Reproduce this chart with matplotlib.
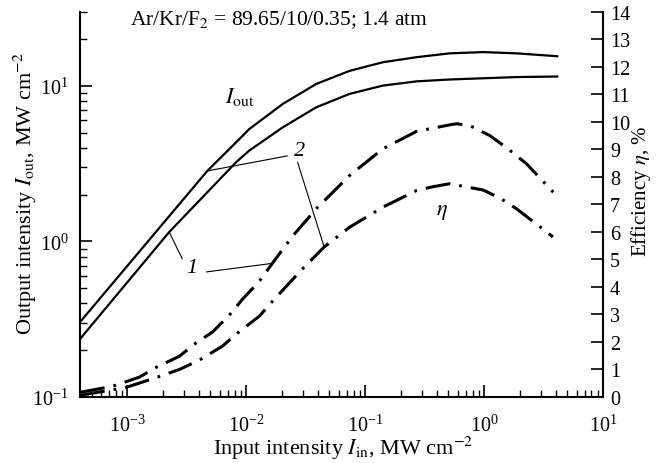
"""
Output intensity and efficiency vs input intensity (Ar/Kr/F2 amplifier).
"""
import numpy as np
import matplotlib

matplotlib.use("Agg")
from matplotlib import pyplot as plt
from matplotlib.ticker import LogLocator, NullFormatter, MultipleLocator

# --- data ------------------------------------------------------------------
# output intensity, curve 2 (upper solid)
iin_out2 = [4.0e-4, 4.70e-3, 8.77e-3, 1.06e-2, 2.03e-2, 3.88e-2, 7.40e-2, 0.141,
            0.270, 0.515, 0.982, 1.875, 4.21]
iout_2 = [0.303, 2.84, 4.56, 5.28, 7.66, 10.3, 12.5, 14.2, 15.3, 16.2, 16.5, 16.2, 15.5]

# output intensity, curve 1 (lower solid)
iin_out1 = [4.0e-4, 2.25e-3, 8.24e-3, 1.06e-2, 2.03e-2, 3.88e-2, 7.40e-2, 0.141,
            0.270, 0.515, 0.982, 1.875, 4.21]
iout_1 = [0.236, 1.15, 3.24, 3.84, 5.42, 7.29, 8.89, 10.05, 10.7, 11.0, 11.2, 11.4, 11.5]

# efficiency, curve 1 (upper dash-dot)
iin_eff1 = [4.0e-4, 7.48e-4, 1.26e-3, 1.75e-3, 2.74e-3, 3.66e-3, 5.2e-3, 7.23e-3,
            9.33e-3, 1.285e-2, 1.89e-2, 2.47e-2, 3.88e-2, 7.40e-2, 0.141, 0.270,
            0.515, 0.589, 0.759, 1.117, 1.585, 2.28, 3.82]
eff_1 = [0.17, 0.39, 0.72, 1.08, 1.48, 1.92, 2.36, 2.98, 3.56, 4.2, 5.19, 5.86,
         6.84, 8.05, 9.02, 9.65, 9.89, 9.93, 9.86, 9.5, 9.02, 8.47, 7.44]

# efficiency, curve 2 (lower dash-dot)
iin_eff2 = [4.0e-4, 9.77e-4, 1.79e-3, 2.74e-3, 4.04e-3, 6.31e-3, 8.43e-3, 1.29e-2,
            1.63e-2, 2.9e-2, 4.52e-2, 7.40e-2, 0.141, 0.270, 0.37, 0.515, 0.982,
            1.36, 1.875, 3.79]
eff_2 = [0.06, 0.35, 0.72, 1.0, 1.34, 1.85, 2.32, 2.94, 3.44, 4.61, 5.45, 6.17,
         6.9, 7.5, 7.64, 7.75, 7.52, 7.23, 6.84, 5.82]

x_ticks = [1e-3, 1e-2, 1e-1, 1e0, 1e1]
eff_ticks = list(range(0, 15))


def on_curve(xs, ys, x, logy=True):
    """Point of a curve at input intensity x (interpolated in log x)."""
    lx = np.log10(xs)
    if logy:
        return x, 10 ** np.interp(np.log10(x), lx, np.log10(ys))
    return x, np.interp(np.log10(x), lx, ys)


plt.rcParams["font.family"] = ["Liberation Serif", "DejaVu Serif"]
plt.rcParams["mathtext.fontset"] = "stix"
plt.rcParams["font.size"] = 16
plt.rcParams["lines.scale_dashes"] = False

fig = plt.figure(figsize=(6.7, 4.64), dpi=100)
ax = fig.add_axes([0.1194, 0.1422, 0.7806, 0.8304])
ax2 = ax.twinx()

ax.plot(iin_out2, iout_2, color="black", lw=1.6, solid_capstyle="butt")
ax.plot(iin_out1, iout_1, color="black", lw=1.6, solid_capstyle="butt")

dashdot = (0, (18, 6.5, 2, 6.5))
ax2.plot(iin_eff1, eff_1, color="black", lw=2.2, ls=dashdot, dash_capstyle="butt")
ax2.plot(iin_eff2, eff_2, color="black", lw=2.2, ls=dashdot, dash_capstyle="butt")

ax.set_xscale("log")
ax.set_yscale("log")
ax.set_xlim(4e-4, 1e1)
ax.set_ylim(1e-1, 30)
ax2.set_ylim(0, 14)

ax.set_xticks(x_ticks)
ax.xaxis.set_minor_locator(LogLocator(base=10, subs=np.arange(2, 10)))
ax.yaxis.set_minor_locator(LogLocator(base=10, subs=np.arange(2, 10)))
ax.xaxis.set_minor_formatter(NullFormatter())
ax.yaxis.set_minor_formatter(NullFormatter())
ax2.set_yticks(eff_ticks)
ax2.yaxis.set_minor_locator(MultipleLocator(100))

for a in (ax, ax2):
    a.spines["top"].set_visible(False)
    for s in a.spines.values():
        s.set_linewidth(1.5)
ax.spines["right"].set_visible(False)
ax2.spines["left"].set_visible(False)
ax2.spines["bottom"].set_visible(False)

ax.tick_params(which="major", direction="in", length=8.5, width=1.2,
               labelsize=14.5)
ax.tick_params(axis="x", which="major", pad=13)
ax.tick_params(axis="y", which="major", pad=8)
ax.tick_params(which="minor", direction="in", length=5, width=1.0)
ax.tick_params(axis="x", which="both", top=False)
ax.tick_params(axis="y", which="both", right=False)
ax2.tick_params(axis="y", which="major", direction="in", length=8.5, width=1.2,
                pad=5, labelsize=14.5)

ax.set_xlabel(r"Input intensity $I_{\rm in}$, MW cm$^{-2}$", va="center")
ax.set_ylabel(r"Output intensity $I_{\rm out}$, MW cm$^{-2}$", va="center")
ax2.set_ylabel(r"Efficiency $\eta$, %", va="center", fontsize=15)
ax.xaxis.set_label_coords(0.503, -0.132)
ax.yaxis.set_label_coords(-0.105, 0.53)
ax2.yaxis.set_label_coords(1.073, 0.535)

ax.text(0.0956, 0.981, r"Ar/Kr/F$_2$ = 89.65/10/0.35; 1.4 atm",
        transform=ax.transAxes, ha="left", va="center", fontsize=15.5)

# curve labels and leader lines
ax.text(8.8e-3, 8.6, r"$I_{\rm out}$", ha="center", va="center")
ax2.text(0.44, 6.73, r"$\eta$", ha="center", va="center")
ax.text(0.028, 3.82, "2", style="italic", ha="center", va="center")
ax.text(3.5e-3, 0.676, "1", style="italic", ha="center", va="center")

lead = dict(arrowstyle="-", lw=0.8, color="black", shrinkA=0, shrinkB=0)
ax.annotate("", xy=on_curve(iin_out2, iout_2, 4.7e-3), xytext=(0.0222, 3.55),
            arrowprops=lead)
ax2.annotate("", xy=on_curve(iin_eff2, eff_2, 4.52e-2, logy=False),
             xytext=(0.0270, 3.24), textcoords=ax.transData, arrowprops=lead)
ax.annotate("", xy=on_curve(iin_out1, iout_1, 2.25e-3), xytext=(2.9e-3, 0.772),
            arrowprops=lead)
ax2.annotate("", xy=on_curve(iin_eff1, eff_1, 1.66e-2, logy=False),
             xytext=(4.62e-3, 0.637), textcoords=ax.transData, arrowprops=lead)

fig.savefig("out.png", dpi=100)
